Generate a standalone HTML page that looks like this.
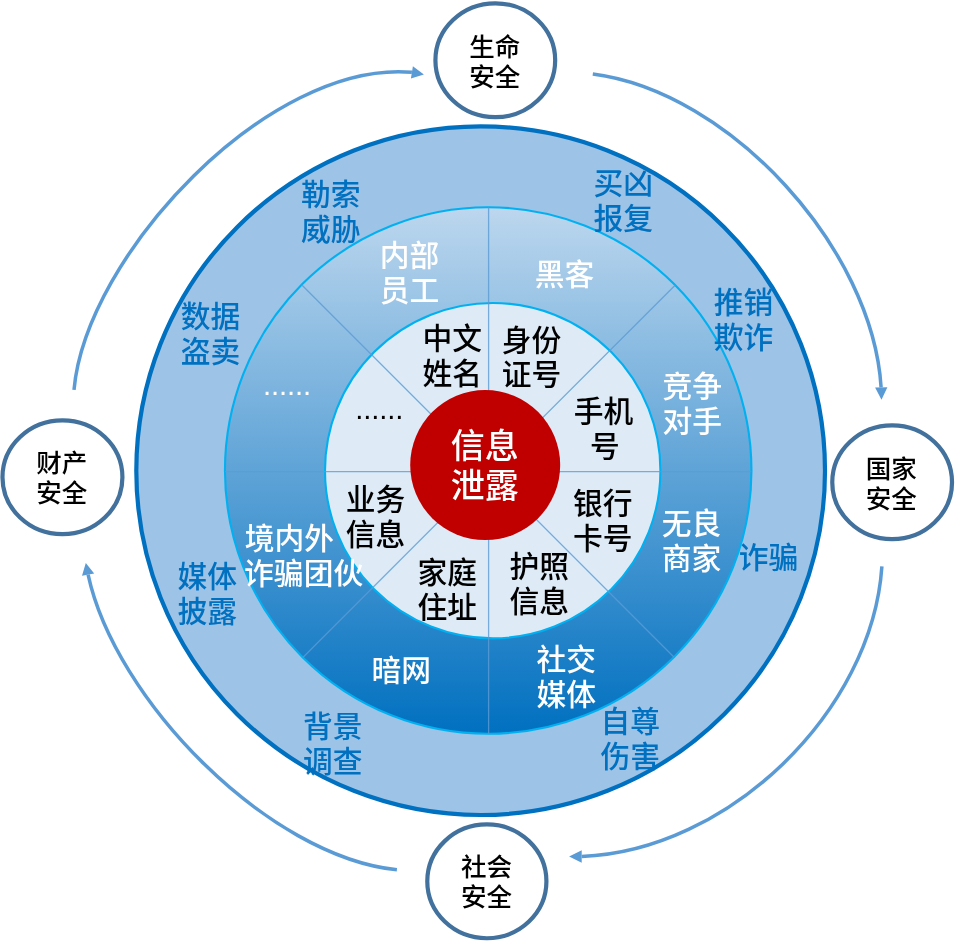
<!DOCTYPE html>
<html lang="zh-CN"><head><meta charset="utf-8"><title>信息泄露</title>
<style>html,body{margin:0;padding:0;background:#fff;}body{width:956px;height:941px;overflow:hidden;}svg{display:block;will-change:transform;}text{font-family:'Liberation Sans', 'Noto Sans CJK SC', sans-serif;font-weight:500;}</style>
</head><body>
<svg width="956" height="941" viewBox="0 0 956 941">
<defs><linearGradient id="g" gradientUnits="userSpaceOnUse" x1="0" y1="206" x2="0" y2="735"><stop offset="0" stop-color="#BDD7EE"/><stop offset="1" stop-color="#0070C0"/></linearGradient><clipPath id="rc"><circle cx="488.20" cy="470.50" r="263.25"/></clipPath></defs>
<path d="M74.0 389.8 C86.2 255.4 268.2 59.8 411.9 72.3 M592.8 74.0 C730.5 91.7 872.8 249.2 881.1 387.4 M881.9 566.3 C872.1 712.3 727.1 851.2 581.7 856.5 M396.9 869.8 C267.9 856.4 115.0 699.7 88.1 574.6" fill="none" stroke="#5B9BD5" stroke-width="3.5"/>
<path d="M423.9 74.4 L410.9 78.5 L412.9 66.2 Z M881.5 399.8 L875.1 387.5 L887.4 387.3 Z M569.1 856.5 L581.7 850.3 L581.7 862.7 Z M85.8 563.1 L94.2 573.5 L82.0 575.8 Z" fill="#5B9BD5"/>
<circle cx="480.65" cy="470.65" r="344.35" fill="#9DC3E6" stroke="#0070C0" stroke-width="4.20"/>
<circle cx="488.20" cy="470.50" r="263.25" fill="url(#g)" stroke="#00B0F0" stroke-width="2.10"/>
<circle cx="492.70" cy="470.65" r="167.70" fill="#DEEBF7" stroke="#00B0F0" stroke-width="2.10"/>
<path d="M488.60 471.70 L768.60 471.70 M488.60 471.70 L686.59 669.69 M488.60 471.70 L488.60 751.70 M488.60 471.70 L290.61 669.69 M488.60 471.70 L208.60 471.70 M488.60 471.70 L290.61 273.71 M488.60 471.70 L488.60 191.70 M488.60 471.70 L686.59 273.71" stroke="#5B9BD5" stroke-opacity="0.8" stroke-width="1.3" fill="none" clip-path="url(#rc)"/>
<circle cx="485.20" cy="465.10" r="75.00" fill="#C00000"/>
<ellipse cx="495.30" cy="60.25" rx="59.88" ry="56.97" fill="#fff" stroke="#41719C" stroke-width="4.2"/>
<ellipse cx="62.45" cy="477.30" rx="59.97" ry="56.88" fill="#fff" stroke="#41719C" stroke-width="4.2"/>
<ellipse cx="892.15" cy="482.20" rx="59.88" ry="56.92" fill="#fff" stroke="#41719C" stroke-width="4.2"/>
<ellipse cx="486.85" cy="881.35" rx="59.57" ry="56.88" fill="#fff" stroke="#41719C" stroke-width="4.2"/>
<g>
<text x="330.70" y="204.70" font-size="29.77" fill="#0070C0" text-anchor="middle">勒索</text>
<text x="330.70" y="239.60" font-size="29.77" fill="#0070C0" text-anchor="middle">威胁</text>
<text x="623.35" y="194.05" font-size="29.77" fill="#0070C0" text-anchor="middle">买凶</text>
<text x="623.35" y="228.95" font-size="29.77" fill="#0070C0" text-anchor="middle">报复</text>
<text x="210.52" y="327.07" font-size="29.77" fill="#0070C0" text-anchor="middle">数据</text>
<text x="210.52" y="361.98" font-size="29.77" fill="#0070C0" text-anchor="middle">盗卖</text>
<text x="743.62" y="312.77" font-size="29.77" fill="#0070C0" text-anchor="middle">推销</text>
<text x="743.62" y="347.68" font-size="29.77" fill="#0070C0" text-anchor="middle">欺诈</text>
<text x="768.45" y="568.08" font-size="29.77" fill="#0070C0" text-anchor="middle">诈骗</text>
<text x="207.30" y="587.17" font-size="29.77" fill="#0070C0" text-anchor="middle">媒体</text>
<text x="207.30" y="622.08" font-size="29.77" fill="#0070C0" text-anchor="middle">披露</text>
<text x="332.70" y="736.98" font-size="29.77" fill="#0070C0" text-anchor="middle">背景</text>
<text x="332.70" y="771.88" font-size="29.77" fill="#0070C0" text-anchor="middle">调查</text>
<text x="630.17" y="731.90" font-size="29.77" fill="#0070C0" text-anchor="middle">自尊</text>
<text x="630.17" y="766.80" font-size="29.77" fill="#0070C0" text-anchor="middle">伤害</text>
<text x="409.45" y="265.75" font-size="29.77" fill="#FFFFFF" text-anchor="middle">内部</text>
<text x="409.45" y="300.65" font-size="29.77" fill="#FFFFFF" text-anchor="middle">员工</text>
<text x="564.40" y="284.82" font-size="29.77" fill="#FFFFFF" text-anchor="middle">黑客</text>
<text x="692.23" y="397.45" font-size="29.77" fill="#FFFFFF" text-anchor="middle">竞争</text>
<text x="692.23" y="432.35" font-size="29.77" fill="#FFFFFF" text-anchor="middle">对手</text>
<text x="691.55" y="534.15" font-size="29.77" fill="#FFFFFF" text-anchor="middle">无良</text>
<text x="691.55" y="569.05" font-size="29.77" fill="#FFFFFF" text-anchor="middle">商家</text>
<text x="566.25" y="669.90" font-size="29.77" fill="#FFFFFF" text-anchor="middle">社交</text>
<text x="566.25" y="704.80" font-size="29.77" fill="#FFFFFF" text-anchor="middle">媒体</text>
<text x="401.38" y="680.88" font-size="29.77" fill="#FFFFFF" text-anchor="middle">暗网</text>
<text x="289.40" y="549.10" font-size="29.77" fill="#FFFFFF" text-anchor="middle">境内外</text>
<text x="303.65" y="584.10" font-size="29.77" fill="#FFFFFF" text-anchor="middle">诈骗团伙</text>
<text x="452.38" y="348.90" font-size="29.77" fill="#000000" text-anchor="middle">中文</text>
<text x="452.38" y="383.80" font-size="29.77" fill="#000000" text-anchor="middle">姓名</text>
<text x="531.55" y="350.52" font-size="29.77" fill="#000000" text-anchor="middle">身份</text>
<text x="531.55" y="385.43" font-size="29.77" fill="#000000" text-anchor="middle">证号</text>
<text x="603.62" y="422.08" font-size="29.77" fill="#000000" text-anchor="middle">手机</text>
<text x="604.78" y="457.05" font-size="29.77" fill="#000000" text-anchor="middle">号</text>
<text x="602.67" y="513.98" font-size="29.77" fill="#000000" text-anchor="middle">银行</text>
<text x="602.67" y="548.88" font-size="29.77" fill="#000000" text-anchor="middle">卡号</text>
<text x="539.17" y="577.05" font-size="29.77" fill="#000000" text-anchor="middle">护照</text>
<text x="539.17" y="611.95" font-size="29.77" fill="#000000" text-anchor="middle">信息</text>
<text x="447.38" y="582.85" font-size="29.77" fill="#000000" text-anchor="middle">家庭</text>
<text x="447.38" y="617.75" font-size="29.77" fill="#000000" text-anchor="middle">住址</text>
<text x="375.62" y="509.75" font-size="29.77" fill="#000000" text-anchor="middle">业务</text>
<text x="375.62" y="544.65" font-size="29.77" fill="#000000" text-anchor="middle">信息</text>
<text x="484.82" y="458.05" font-size="34.02" fill="#FFFFFF" text-anchor="middle">信息</text>
<text x="484.82" y="497.94" font-size="34.02" fill="#FFFFFF" text-anchor="middle">泄露</text>
<text x="494.80" y="55.77" font-size="25.52" fill="#000000" text-anchor="middle">生命</text>
<text x="494.80" y="85.69" font-size="25.52" fill="#000000" text-anchor="middle">安全</text>
<text x="61.72" y="472.10" font-size="25.52" fill="#000000" text-anchor="middle">财产</text>
<text x="61.72" y="502.02" font-size="25.52" fill="#000000" text-anchor="middle">安全</text>
<text x="891.30" y="477.95" font-size="25.52" fill="#000000" text-anchor="middle">国家</text>
<text x="891.30" y="507.87" font-size="25.52" fill="#000000" text-anchor="middle">安全</text>
<text x="486.60" y="875.80" font-size="25.52" fill="#000000" text-anchor="middle">社会</text>
<text x="486.60" y="905.72" font-size="25.52" fill="#000000" text-anchor="middle">安全</text>
<text x="287.10" y="395.00" font-size="29.33" fill="#FFFFFF" text-anchor="middle" font-weight="700" letter-spacing="-0.15">......</text>
<text x="379.30" y="419.00" font-size="29.33" fill="#000000" text-anchor="middle" font-weight="700" letter-spacing="-0.15">......</text>
</g>
</svg></body></html>
